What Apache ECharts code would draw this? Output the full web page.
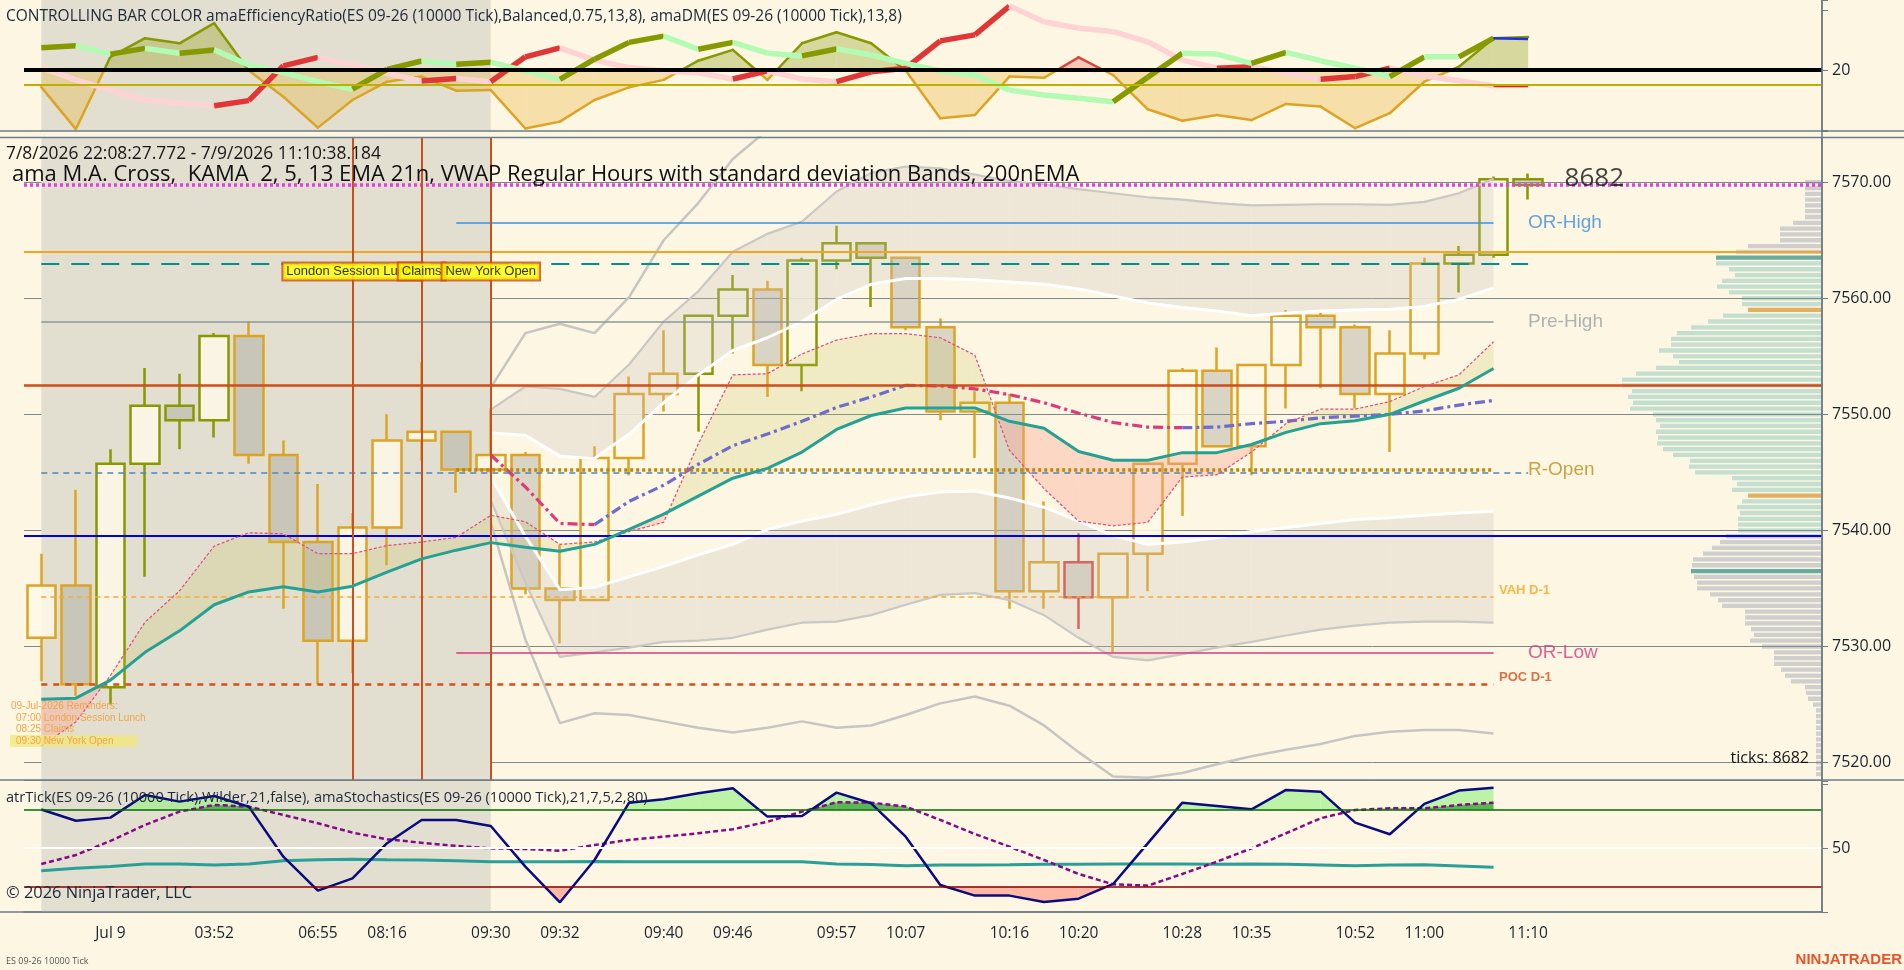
<!DOCTYPE html>
<html>
<head>
<meta charset="utf-8">
<title>ES 09-26 10000 Tick</title>
<script src="https://cdn.jsdelivr.net/npm/echarts@6.0.0/dist/echarts.min.js"></script>
<style>
html,body{margin:0;padding:0;background:#fdf6e3;overflow:hidden;}
#chart{width:1904px;height:970px;}
</style>
</head>
<body>
<div id="chart"></div>
<script>
const N = null;

// ---------------- categories / tick labels ----------------
const barTimes = ['', '', 'Jul 9', '', '', '03:52', '', '', '06:55', '', '08:16', '', '', '09:30', '', '09:32', '', '', '09:40', '', '09:46', '', '', '09:57', '', '10:07', '', '', '10:16', '', '10:20', '', '', '10:28', '', '10:35', '', '', '10:52', '', '11:00', '', '', '11:10'];
const extraTickBars = [0, 3];
const futureSlots = 8;

// ---------------- price bars ----------------
const opens  = [7530.75,7535.25,7526.5,7545.75,7550.75,7549.5,7556.75,7546.5,7539,7530.5,7540.25,7547.75,7548.5,7545.25,7546.5,7535,7534,7546.25,7551.75,7553.5,7558.5,7560.75,7554.25,7563.25,7564.75,7563.5,7557.5,7550.25,7551,7534.75,7537.25,7534.25,7538,7545.75,7553.75,7547.25,7554.25,7558.5,7557.5,7551.75,7555.25,7563,7563.75,7570.25];
const closes = [7535.25,7526.75,7545.75,7550.75,7549.5,7556.75,7546.5,7539,7530.5,7540.25,7547.75,7548.5,7545.25,7546.5,7535,7534,7546.25,7551.75,7553.5,7558.5,7560.75,7554.25,7563.25,7564.75,7563.5,7557.5,7550.25,7551,7534.75,7537.25,7534.25,7538,7545.75,7553.75,7547.25,7554.25,7558.5,7557.5,7551.75,7555.25,7563,7563.75,7570.25,7569.75];
const lows   = [7527,7525.75,7525,7536,7547,7548,7545.75,7533.25,7526.75,7527.75,7537,7546,7543.25,7545,7534.5,7530.25,7534,7544.75,7550.25,7548.5,7555.25,7551.5,7552,7562.5,7559.25,7557.25,7549.5,7546.25,7533.25,7533.25,7531.5,7529.5,7534.75,7541.25,7547.25,7544.75,7550.5,7552.25,7550.5,7546.75,7554.75,7560.5,7563.5,7568.5];
const highs  = [7538,7543.5,7547,7554,7553.5,7557,7558,7547.75,7544,7541.5,7550,7554.5,7548.5,7550.5,7546.75,7538.75,7547.25,7553.25,7557.25,7558.5,7562,7561.5,7563.5,7566.25,7564.75,7563.5,7558.25,7552,7551.75,7542.5,7539.75,7538,7545.75,7554,7555.75,7554.25,7559,7558.75,7557.75,7557.25,7563.5,7564.5,7570.5,7570.75];

// ---------------- moving averages (main panel) ----------------
const ema21 = [7525.45,7525.55,7527.1,7529.5,7531.35,7533.6,7534.7,7535.15,7534.7,7535.2,7536.4,7537.55,7538.3,7538.95,7538.55,7538.2,7538.8,7540.1,7541.4,7542.95,7544.5,7545.35,7546.75,7548.7,7549.9,7550.55,7550.55,7550.55,7549.4,7548.8,7546.8,7546.05,7546.05,7546.7,7546.7,7547.4,7548.45,7549.2,7549.45,7550,7551.15,7552.25,7553.95];
const kama   = [7521.4,7523.5,7527.5,7532.1,7534.8,7538.65,7539.8,7539.7,7538,7538,7538.7,7539,7539.4,7541.3,7540.75,7538.8,7539,7539.9,7540.7,7547.45,7553.4,7553.5,7555.2,7556.4,7556.95,7556.95,7556.6,7555.1,7546.9,7543.6,7540.8,7540.4,7540.7,7544.6,7544.8,7546.75,7549.2,7550.45,7550.45,7551.1,7552.4,7553.4,7556.25];

// ---------------- VWAP (regular hours) and SD bands ----------------
const vwap = [N,N,N,N,N,N,N,N,N,N,N,N,N,7546.5,7543.75,7540.6,7540.5,7542.5,7543.9,7545.7,7547.3,7548.3,7549.4,7550.6,7551.5,7552.5,7552.45,7552.2,7551.7,7551,7550.1,7549.3,7548.9,7548.85,7548.9,7549.2,7549.4,7549.7,7549.85,7550,7550.3,7550.8,7551.2];
const vwapUp1 = [N,N,N,N,N,N,N,N,N,N,N,N,N,7548.4,7548.2,7546.4,7546.2,7548.3,7551,7553.4,7555.5,7556.6,7558,7559.9,7561.2,7561.7,7561.7,7561.6,7561.4,7561.2,7560.8,7560.2,7559.6,7559.2,7558.9,7558.5,7558.7,7558.9,7559,7559.05,7559.3,7559.9,7560.9];
const vwapLo1 = [N,N,N,N,N,N,N,N,N,N,N,N,N,7544.6,7539.5,7534.9,7535.1,7536,7536.9,7537.9,7538.8,7540.1,7540.8,7541.4,7542.2,7542.9,7543.3,7543.4,7542.8,7542,7540.8,7539.55,7538.8,7539,7539.4,7539.9,7540.25,7540.6,7540.95,7541.1,7541.3,7541.5,7541.65];
const vwapUp2 = [N,N,N,N,N,N,N,N,N,N,N,N,N,7550.4,7552.4,7552.2,7551.5,7554.3,7558,7560.6,7564,7565.55,7566.6,7569.2,7570.8,7571.35,7571.2,7570.65,7570.1,7569.8,7569.4,7569.05,7568.7,7568.5,7568.2,7568,7568.05,7568.1,7568.1,7568.05,7568.3,7569.05,7570.3];
const vwapLo2 = [N,N,N,N,N,N,N,N,N,N,N,N,N,7542.6,7535.5,7529.1,7529.5,7529.9,7530.4,7530.5,7530.75,7531.45,7532.05,7532.15,7532.7,7533.6,7534.45,7534.6,7534,7532.7,7530.75,7529.1,7528.8,7529.35,7529.9,7530.4,7530.95,7531.45,7531.8,7532.05,7532.15,7532.15,7532.05];
const vwapUp3 = [N,N,N,N,N,N,N,N,N,N,N,N,N,7552.3,7557,7557.8,7557,7560.1,7565,7568.2,7572,7574.5,7576,7578,7579.5,7580.5,7580,7579,7578.5,7578.5,7579,7580,7579.5,7578.5,7578,7578,7577.5,7577.5,7577.5,7577.5,7578,7579,7580];
const vwapLo3 = [N,N,N,N,N,N,N,N,N,N,N,N,N,7540.7,7530.6,7523.4,7524.25,7524.1,7523.55,7523,7522.6,7523,7523.55,7523,7523.2,7524.1,7525.1,7525.7,7524.9,7523.2,7520.9,7518.8,7518.7,7519.1,7519.85,7520.55,7521.1,7521.6,7522.3,7522.65,7522.8,7522.8,7522.5];

// ---------------- price levels ----------------
const lastPrice = 7569.75;
const orHigh = 7566.5;
const globexHigh = 7564;
const overnightLevel = 7563;
const preHigh = 7558;
const priorLevel = 7552.5;
const rOpen = 7545.25;
const openLevel = 7545;
const priorLow = 7539.5;
const vahD1 = 7534.25;
const orLow = 7529.5;
const pocD1 = 7526.75;

// ---------------- session events ----------------
const eventBars  = [9, 11, 13];
const eventNames = ['London Session Lunch', 'Claims', 'New York Open'];
const eventLabelPrice = 7562.3;
const reminderLines = ['09-Jul-2026 Reminders:', '07:00 London Session Lunch', '08:25 Claims', '09:30 New York Open'];
const sessionStartBar = 0, sessionEndBar = 13;

// ---------------- volume profile ----------------
const profileTopPrice = 7570, profileTick = 0.5;
const profileVolumes = [17,17,17,17,17,17,17,29,42,42,42,74,86,106,106,93,87,100,105,93,80,80,74,99,114,131,145,151,151,163,149,143,166,186,200,200,190,194,189,192,169,166,162,166,164,165,159,149,132,133,127,90,85,90,74,80,85,82,84,84,84,96,102,110,119,129,130,131,128,125,125,112,104,100,77,77,77,71,68,72,60,48,48,48,41,37,31,17,16,14,9,6,6,6,6,6,6,6,6,6,6,6,6];
const profileVAHigh = 7563.5, profileVALow = 7540;
const profileDarkRows = [7563.5, 7536.5];
const profileOrangeRows = [7559, 7543];
const tickCount = 8682;

// ---------------- top panel: efficiency ratio + DM ----------------
const effRatio = [14.3,0.3,24.4,30.6,28.9,35.6,19.8,11.1,0.8,10,16.1,17.8,13.1,13.3,0.5,2.8,10,14.2,16.7,23.1,26.7,16.7,28.9,32.6,28.9,19.8,3.9,5,17.8,17.4,24.2,18.3,6.9,3.1,5,3.3,8.7,7.8,0.6,5.6,16.1,21.1,30.6,31];
const diPlus   = [27.4,28.1,25.3,27.2,25.6,26.7,21.7,19.1,16.1,13.6,20.2,23,21.9,22.6,19.7,16.9,23.6,29.2,31.3,26.9,29.2,25.6,24.7,27,25,22.2,19.7,18.3,13.3,11.7,10.6,9.4,17.6,25.6,25.3,22.2,25.9,23.1,20.6,17.8,24.4,24.4,30.6,30.3];
const diMinus  = [20.8,16.7,13.3,10,9.1,8.1,9.8,21.4,24.2,21.7,18.9,16.3,17.2,16.1,24.4,27.4,23.3,20.8,19.7,19.1,17,19.7,17,16.1,19.4,20.6,29.7,31.7,41.3,36.1,33.9,32.8,29.4,23.3,20.6,21.1,19.1,16.9,17.8,20.6,18,16.4,14.7,14.7];
const erLevel = 20, erLowLevel = 15;

// ---------------- bottom panel: stochastics + ATR ----------------
const stochK = [80,71.3,73.7,91.4,86.2,90.6,82.3,43.2,16.7,26.3,53.7,71.9,71.9,67.2,35.4,7.6,40.6,85.4,88,92.7,96.6,74.5,75,93.2,84.9,58.8,21.1,12.8,12.8,7.8,10.4,21.9,53.6,85.4,82.8,80.2,95.3,94,69.8,60.7,84.4,94.8,97.1];
const stochD = [37.5,44.5,55.5,68,78.4,83.6,82.3,75.8,69.3,62,56.8,54.1,51.6,49.7,49.2,47.9,52.3,56.3,58.8,61.5,64.6,70.5,78.4,85.7,85.4,82.3,71.9,60.9,51,40.6,29.7,21.6,20.6,29.7,39.3,49.7,61.5,73.2,79.7,81,81,83.6,85.4];
const atrTick = [32.3,34.1,35.5,37.5,37.5,36.7,37.5,40.1,40.8,41.1,40.8,40.6,40,39.3,39.3,39.3,39.5,39.3,39.3,39.3,39.3,39.3,39.3,37.5,37,36.2,36.7,36.7,36.9,37.2,37.2,37.5,37.5,37.5,37.2,37.5,37.2,36.7,36.2,36.7,36.9,36,34.9];
const stochUpper = 80, stochMid = 50, stochLower = 20;

// ---------------- texts ----------------
const topPanelLabel = 'CONTROLLING BAR COLOR amaEfficiencyRatio(ES 09-26 (10000 Tick),Balanced,0.75,13,8), amaDM(ES 09-26 (10000 Tick),13,8)';
const dateRange = '7/8/2026 22:08:27.772 - 7/9/2026 11:10:38.184';
const mainTitle = 'ama M.A. Cross,  KAMA  2, 5, 13 EMA 21n, VWAP Regular Hours with standard deviation Bands, 200nEMA';
const bottomPanelLabel = 'atrTick(ES 09-26 (10000 Tick),Wilder,21,false), amaStochastics(ES 09-26 (10000 Tick),21,7,5,2,80)';
const copyright = '\u00A9 2026 NinjaTrader, LLC';
const instrumentLabel = 'ES 09-26 10000 Tick';

// =====================================================================
const FONT = '"Open Sans", "Noto Sans", sans-serif';
const COL = {
  bg: '#fdf6e3', session: '#e3dfd0', frame: '#6d7c86', text: '#1b2430',
  olive: '#879800', orange: '#dca424', red: '#d8453d',
  diUp: '#869a00', diDown: '#b3fbb3', dmUp: '#e03636', dmDown: '#ffd3d3'
};
const UP_FILL = 'rgba(254,248,232,0.85)';
const DOWN_FILL = 'rgba(150,148,140,0.34)';

const W = 1904;
const GL = 24, GR = 82;
const priceMin = 7518.5, priceMax = 7573.85;
const nBars = barTimes.length;
const catIdx = [];
for (let i = 0; i < nBars + futureSlots; i++) catIdx.push(String(i));

const profilePrices = profileVolumes.map((_, k) => profileTopPrice - k * profileTick);

function barColor(i) {
  if (effRatio[i] > erLevel) return diPlus[i] >= diMinus[i] ? COL.olive : COL.red;
  return COL.orange;
}
function colOf(c, i) { return typeof c === 'function' ? c(i) : c; }
function accessor(b) { return typeof b === 'number' ? () => b : (j) => b[j]; }

// fill between series a and b (or a constant), split at crossings
function bandRender(a, b, colAbove, colBelow) {
  const B = accessor(b);
  return function (i, api) {
    const a0 = a[i], a1 = a[i + 1], b0 = B(i), b1 = B(i + 1);
    if (a0 == null || a1 == null || b0 == null || b1 == null) return null;
    const A0 = api.coord([i, a0]), A1 = api.coord([i + 1, a1]);
    const B0 = api.coord([i, b0]), B1 = api.coord([i + 1, b1]);
    const d0 = a0 - b0, d1 = a1 - b1;
    const polys = [];
    if (d0 * d1 >= 0) {
      if (d0 === 0 && d1 === 0) return null;
      polys.push({ pts: [A0, A1, B1, B0], c: (d0 + d1 > 0) ? colOf(colAbove, i) : colOf(colBelow, i) });
    } else {
      const t = d0 / (d0 - d1);
      const X = [A0[0] + t * (A1[0] - A0[0]), A0[1] + t * (A1[1] - A0[1])];
      polys.push({ pts: [A0, X, B0], c: d0 > 0 ? colOf(colAbove, i) : colOf(colBelow, i) });
      polys.push({ pts: [X, A1, B1], c: d1 > 0 ? colOf(colAbove, i) : colOf(colBelow, i) });
    }
    return { type: 'group', children: polys.filter(p => p.c).map(p => ({ type: 'polygon', shape: { points: p.pts }, style: { fill: p.c } })) };
  };
}
// line coloured by side of a threshold
function splitLineRender(vals, thr, colAbove, colBelow, width) {
  return function (i, api) {
    const v0 = vals[i], v1 = vals[i + 1];
    if (v0 == null || v1 == null) return null;
    const P0 = api.coord([i, v0]), P1 = api.coord([i + 1, v1]);
    const seg = (p, q, c) => ({ type: 'line', shape: { x1: p[0], y1: p[1], x2: q[0], y2: q[1] }, style: { stroke: c, lineWidth: width, lineCap: 'round' } });
    const d0 = v0 - thr, d1 = v1 - thr;
    if (d0 * d1 >= 0) return seg(P0, P1, (d0 + d1 > 0) ? colOf(colAbove, i) : colOf(colBelow, i));
    const t = d0 / (d0 - d1);
    const X = [P0[0] + t * (P1[0] - P0[0]), P0[1] + t * (P1[1] - P0[1])];
    return { type: 'group', children: [seg(P0, X, d0 > 0 ? colOf(colAbove, i) : colOf(colBelow, i)), seg(X, P1, d1 > 0 ? colOf(colAbove, i) : colOf(colBelow, i))] };
  };
}
// line coloured by direction of each segment
function dirSegRender(vals, upCol, downCol, width, lastCol) {
  return function (i, api) {
    const v0 = vals[i], v1 = vals[i + 1];
    if (v0 == null || v1 == null) return null;
    const a = api.coord([i, v0]), b = api.coord([i + 1, v1]);
    let c = v1 > v0 ? upCol : downCol, w = width;
    if (lastCol && i === vals.length - 2) { c = lastCol; w = 2.5; }
    return { type: 'line', shape: { x1: a[0], y1: a[1], x2: b[0], y2: b[1] }, style: { stroke: c, lineWidth: w, lineCap: 'butt' } };
  };
}
function segSeries(xi, yi, vals, z, render) {
  const data = [];
  for (let i = 0; i < vals.length - 1; i++) data.push([i, vals[i] == null ? NaN : vals[i]]);
  return {
    type: 'custom', xAxisIndex: xi, yAxisIndex: yi, z: z, silent: true, clip: true,
    encode: { x: 0, y: 1 }, data: data,
    renderItem: function (params, api) { return render(params.dataIndex, api) || { type: 'group', children: [] }; }
  };
}
function lineSeries(xi, yi, vals, color, width, type, z) {
  return { type: 'line', xAxisIndex: xi, yAxisIndex: yi, data: vals, symbol: 'none', z: z, silent: true,
    connectNulls: false, clip: true, lineStyle: { color: color, width: width, type: type || 'solid' } };
}
function dummy(xi, yi, z, extra) {
  return Object.assign({ type: 'line', xAxisIndex: xi, yAxisIndex: yi, data: catIdx.map(() => null), symbol: 'none', z: z, silent: true }, extra);
}
function sessionArea() {
  return { silent: true, itemStyle: { color: COL.session }, data: [[{ xAxis: sessionStartBar }, { xAxis: sessionEndBar }]] };
}
function hLine(price, color, width, type, from, to) {
  const ls = { color: color, width: width, type: type || 'solid' };
  if (from == null) return { yAxis: price, lineStyle: ls };
  return [{ coord: [from, price], lineStyle: ls }, { coord: [to, price], lineStyle: ls }];
}
function runSplit(vals) {
  const fall = vals.map(() => null), rise = vals.map(() => null);
  for (let i = 0; i < vals.length - 1; i++) {
    if (vals[i] == null || vals[i + 1] == null) continue;
    const tgt = vals[i + 1] < vals[i] ? fall : rise;
    tgt[i] = vals[i]; tgt[i + 1] = vals[i + 1];
  }
  return { fall: fall, rise: rise };
}

// ---------------- axes ----------------
const axisLabelBase = { color: COL.text, fontSize: 16, fontFamily: FONT, margin: 10 };
const yAxisBase = {
  type: 'value', position: 'right', z: 1,
  axisLine: { show: true, lineStyle: { color: COL.frame, width: 1.5 } },
  axisTick: { show: true, length: 6, lineStyle: { color: COL.frame } }
};
const xAxis = [
  { type: 'category', gridIndex: 0, data: catIdx, boundaryGap: true, show: false },
  { type: 'category', gridIndex: 1, data: catIdx, boundaryGap: true, show: false },
  { type: 'category', gridIndex: 2, data: catIdx, boundaryGap: true,
    axisLine: { lineStyle: { color: COL.frame, width: 1.5 } },
    axisTick: { alignWithLabel: true, length: 6, lineStyle: { color: COL.frame },
      interval: function (i) { return !!(barTimes[i] || extraTickBars.indexOf(i) >= 0); } },
    axisLabel: { interval: 0, color: COL.text, fontSize: 15.5, fontFamily: FONT, margin: 14,
      formatter: function (v, i) { return barTimes[i] || ''; } },
    splitLine: { show: false } },
  { type: 'value', gridIndex: 1, position: 'top', inverse: true, min: 0, max: W - GL - GR, show: false }
];
const yAxis = [
  Object.assign({}, yAxisBase, { gridIndex: 0, min: -0.33, max: 43.33, minInterval: 20, maxInterval: 20,
    axisLabel: Object.assign({}, axisLabelBase, { formatter: v => v === erLevel ? String(erLevel) : '' }), splitLine: { show: false } }),
  Object.assign({}, yAxisBase, { gridIndex: 1, min: priceMin, max: priceMax, minInterval: 10, maxInterval: 10,
    axisLabel: Object.assign({}, axisLabelBase, { showMinLabel: false, showMaxLabel: false, formatter: v => v.toFixed(2) }),
    splitLine: { show: true, lineStyle: { color: '#7d8a8c', width: 1 } } }),
  Object.assign({}, yAxisBase, { gridIndex: 2, min: 0, max: 102.3, minInterval: 50, maxInterval: 50,
    axisLabel: Object.assign({}, axisLabelBase, { formatter: v => v === stochMid ? String(stochMid) : '' }), splitLine: { show: false } })
];

// ---------------- series ----------------
const series = [];

// ---- top panel ----
series.push(dummy(0, 0, 0, { markArea: sessionArea() }));
const erAboveCol = function (i) {
  const j = effRatio[i + 1] > effRatio[i] ? i + 1 : i;
  return diPlus[j] >= diMinus[j] ? 'rgba(138,152,10,0.32)' : 'rgba(228,90,80,0.30)';
};
series.push(segSeries(0, 0, effRatio, 1, bandRender(effRatio, erLevel, erAboveCol, 'rgba(232,178,60,0.34)')));
series.push(dummy(0, 0, 2, { markLine: { silent: true, symbol: ['none', 'none'], label: { show: false }, animation: false,
  data: [hLine(erLowLevel, '#bdb000', 2), hLine(erLevel, '#000000', 4)] } }));
const erLineAbove = function (i) {
  const j = effRatio[i + 1] > effRatio[i] ? i + 1 : i;
  return diPlus[j] >= diMinus[j] ? COL.olive : COL.red;
};
series.push(segSeries(0, 0, effRatio, 3, splitLineRender(effRatio, erLevel, erLineAbove, COL.orange, 2.5)));
series.push(segSeries(0, 0, diMinus, 4, dirSegRender(diMinus, COL.dmUp, COL.dmDown, 5.5, '#ff1a1a')));
series.push(segSeries(0, 0, diPlus, 4.1, dirSegRender(diPlus, COL.diUp, COL.diDown, 5.5, '#2030e0')));

// ---- main panel ----
series.push(dummy(1, 1, 0, { markArea: sessionArea() }));
// volume profile
series.push({
  type: 'custom', xAxisIndex: 3, yAxisIndex: 1, z: 0.8, silent: true, clip: true,
  encode: { x: 0, y: 1 },
  data: profilePrices.map((p, k) => [profileVolumes[k], p]),
  renderItem: function (params, api) {
    const p = profilePrices[params.dataIndex];
    const v = profileVolumes[params.dataIndex];
    const p0 = api.coord([0, p]), p1 = api.coord([v, p]);
    const h = api.size([0, profileTick])[1] * 0.74;
    let fill = '#cfcfcd';
    if (profileDarkRows.indexOf(p) >= 0) fill = '#6aa99d';
    else if (profileOrangeRows.indexOf(p) >= 0) fill = '#e2b063';
    else if (p <= profileVAHigh && p >= profileVALow) fill = '#c4dfd0';
    return { type: 'rect', shape: { x: Math.min(p0[0], p1[0]), y: p0[1] - h / 2, width: Math.abs(p0[0] - p1[0]), height: h }, style: { fill: fill } };
  }
});
// level lines + event lines
const lastBar = nBars - 1;
series.push(dummy(1, 1, 1.5, { markLine: { silent: true, symbol: ['none', 'none'], label: { show: false }, animation: false,
  data: [
    hLine(lastPrice, '#e23fe6', 3.5, [3, 3]),
    hLine(globexHigh, '#f2a51e', 1.8),
    hLine(overnightLevel, '#00918b', 2, [18, 12], 0, lastBar),
    hLine(preHigh, '#8b9898', 1.6, 'solid', 0, lastBar - 1),
    hLine(priorLevel, '#d24c18', 2.5),
    hLine(openLevel, '#4a86c8', 1.6, [6, 5], 0, lastBar),
    hLine(priorLow, '#0000e6', 2),
    hLine(vahD1, '#f2aa35', 1.6, [5, 4], 0, lastBar - 1),
    hLine(pocD1, '#d2501a', 2.5, [6, 6], 0, lastBar - 1),
    hLine(orHigh, '#3b90e0', 1.6, 'solid', 12, lastBar - 1),
    hLine(orLow, '#d8397f', 1.6, 'solid', 12, lastBar - 1),
    hLine(rOpen, '#b8880a', 3.5, [3, 3], 12, lastBar - 1)
  ].concat(eventBars.map(b => ({ xAxis: b, lineStyle: { color: '#c8501e', width: 2, type: 'solid' } })))
} }));
// candles
series.push({
  type: 'candlestick', xAxisIndex: 1, yAxisIndex: 1, z: 2, barWidth: 29, silent: true,
  data: opens.map((o, i) => {
    const c = barColor(i);
    const fill = closes[i] < o ? DOWN_FILL : UP_FILL;
    return { value: [o, closes[i], lows[i], highs[i]],
      itemStyle: { color: fill, color0: fill, borderColor: c, borderColor0: c, borderWidth: 2.5 } };
  })
});
// VWAP band fills
series.push(segSeries(1, 1, vwapUp1, 3, bandRender(vwapUp2, vwapUp1, 'rgba(200,195,185,0.28)', 'rgba(200,195,185,0.28)')));
series.push(segSeries(1, 1, vwapLo1, 3, bandRender(vwapLo1, vwapLo2, 'rgba(200,195,185,0.28)', 'rgba(200,195,185,0.28)')));
// MA cross fill
series.push(segSeries(1, 1, kama, 3.1, bandRender(kama, ema21, 'rgba(195,190,90,0.22)', 'rgba(250,160,140,0.36)')));
// band lines
series.push(lineSeries(1, 1, vwapUp3, '#c6c5c2', 2.5, 'solid', 4));
series.push(lineSeries(1, 1, vwapLo3, '#c6c5c2', 2.5, 'solid', 4));
series.push(lineSeries(1, 1, vwapUp2, '#c9c8c4', 2.2, 'solid', 4));
series.push(lineSeries(1, 1, vwapLo2, '#c9c8c4', 2.2, 'solid', 4));
series.push(lineSeries(1, 1, vwapUp1, '#ffffff', 3, 'solid', 4.1));
series.push(lineSeries(1, 1, vwapLo1, '#ffffff', 3, 'solid', 4.1));
const vw = runSplit(vwap);
series.push(lineSeries(1, 1, vw.fall, '#dd3a7c', 3.2, [10, 4, 3, 4], 4.5));
series.push(lineSeries(1, 1, vw.rise, '#6f6ccc', 3.2, [10, 4, 3, 4], 4.5));
// MAs
series.push(lineSeries(1, 1, kama, '#e04a7c', 1.2, [3, 2], 5));
series.push(lineSeries(1, 1, ema21, '#25a193', 3, 'solid', 5.1));
// event labels
series.push({
  type: 'scatter', xAxisIndex: 1, yAxisIndex: 1, z: 6, silent: true, symbolSize: 1, itemStyle: { color: 'rgba(0,0,0,0)' },
  data: eventBars.map((b, k) => ({ value: [b, eventLabelPrice],
    label: { show: true, position: 'inside', formatter: eventNames[k], color: '#000', fontSize: 13, fontFamily: '"Liberation Sans", Arial, sans-serif',
      backgroundColor: '#ffff00', borderColor: '#c8501e', borderWidth: 2, padding: [2, 3, 1, 3] } }))
});
// level labels
const lvlLab = (price, text, color, size, bold, dist, dy) => ({ value: [lastBar - 1, price],
  label: { show: true, position: 'right', distance: dist, offset: [0, dy || 0], formatter: text, color: color, fontSize: size,
    fontWeight: bold ? 'bold' : 'normal', fontFamily: '"Liberation Sans", Arial, sans-serif' } });
series.push({
  type: 'scatter', xAxisIndex: 1, yAxisIndex: 1, z: 6, silent: true, symbolSize: 1, itemStyle: { color: 'rgba(0,0,0,0)' },
  data: [
    lvlLab(orHigh, 'OR-High', '#3b8fdc', 19, false, 34),
    lvlLab(preHigh, 'Pre-High', '#9aa2a2', 19, false, 34),
    lvlLab(rOpen, 'R-Open', '#bd8e1c', 19, false, 34),
    lvlLab(orLow, 'OR-Low', '#d8397f', 19, false, 34),
    lvlLab(vahD1, 'VAH D-1', '#f5a623', 13, true, 5, -7),
    lvlLab(pocD1, 'POC D-1', '#d2501a', 13, true, 5, -7),
    { value: [lastBar, lastPrice], label: { show: true, position: 'right', distance: 36, offset: [0, -6], formatter: String(tickCount),
      color: '#151515', fontSize: 26, fontFamily: FONT } }
  ]
});

// ---- bottom panel ----
series.push(dummy(2, 2, 0, { markArea: sessionArea() }));
series.push(dummy(2, 2, 1.5, { markLine: { silent: true, symbol: ['none', 'none'], label: { show: false }, animation: false,
  data: [hLine(stochUpper, '#006a00', 1.6), hLine(stochMid, '#ffffff', 1.8), hLine(stochLower, '#8b0000', 1.6)] } }));
series.push(segSeries(2, 2, stochK, 2, bandRender(stochK, stochUpper, 'rgba(150,240,130,0.62)', null)));
series.push(segSeries(2, 2, stochK, 2, bandRender(stochK, stochLower, null, 'rgba(255,150,130,0.65)')));
series.push(segSeries(2, 2, stochD, 2.1, bandRender(stochD, stochUpper, 'rgba(50,160,50,0.72)', null)));
series.push(lineSeries(2, 2, atrTick, '#2a9f98', 3, 'solid', 3));
series.push(lineSeries(2, 2, stochD, '#850a8a', 2.5, [5, 3], 3.5));
series.push(lineSeries(2, 2, stochK, '#0b0b80', 2.5, 'solid', 4));

// ---------------- graphic (frame + texts) ----------------
function txt(x, y, text, font, color, extra) {
  return { type: 'text', x: x, y: y, z: 100, silent: true,
    style: Object.assign({ text: text, font: font, fill: color, textVerticalAlign: 'middle', verticalAlign: 'middle', textAlign: 'left', align: 'left' }, extra || {}) };
}
function frameLine(x1, y1, x2, y2) {
  return { type: 'line', z: 50, silent: true, shape: { x1: x1, y1: y1, x2: x2, y2: y2 }, style: { stroke: COL.frame, lineWidth: 1.5 } };
}
const remFont = '10px "Liberation Sans", Arial, sans-serif';
const graphic = [
  frameLine(0, 131, W, 131),
  frameLine(0, 137.5, W, 137.5),
  frameLine(0, 780, W, 780),
  frameLine(0, 912, W - GR, 912),
  frameLine(W - GR, 0, W - GR, 912),
  txt(6, 17, topPanelLabel, '15.5px ' + FONT, '#1b2838'),
  txt(6, 154, dateRange, '17.4px ' + FONT, '#161616'),
  txt(12, 175, mainTitle, '22px ' + FONT, '#101010'),
  txt(6, 797.5, bottomPanelLabel, '14.6px ' + FONT, '#1b2838'),
  txt(6, 893.5, copyright, '16.4px ' + FONT, '#1b2838'),
  { type: 'rect', z: 99, silent: true, shape: { x: 10, y: 735, width: 127, height: 12 }, style: { fill: 'rgba(240,232,120,0.75)' } },
  txt(11, 706, reminderLines[0], remFont, '#f5a448'),
  txt(16, 718, reminderLines[1], remFont, '#f5a448'),
  txt(16, 729.5, reminderLines[2], remFont, '#f5a448'),
  txt(16, 741, reminderLines[3], remFont, '#f5a448'),
  txt(1809, 758, 'ticks: ' + tickCount, '16px ' + FONT, '#161616', { textAlign: 'right', align: 'right' }),
  txt(6, 961, instrumentLabel, '9px ' + FONT, '#555555'),
  txt(1902, 960, 'NINJATRADER', 'bold 15px "Liberation Sans Narrow", "Liberation Sans", Arial, sans-serif', '#e8542c', { textAlign: 'right', align: 'right' })
];

const chart = echarts.init(document.getElementById('chart'), null, { renderer: 'canvas', width: 1904, height: 970 });
chart.setOption({
  animation: false,
  backgroundColor: COL.bg,
  grid: [
    { left: GL, right: GR, top: 0, height: 131 },
    { left: GL, right: GR, top: 137.5, height: 642.5 },
    { left: GL, right: GR, top: 781, height: 131 }
  ],
  xAxis: xAxis,
  yAxis: yAxis,
  series: series,
  graphic: graphic
});
</script>
</body>
</html>
